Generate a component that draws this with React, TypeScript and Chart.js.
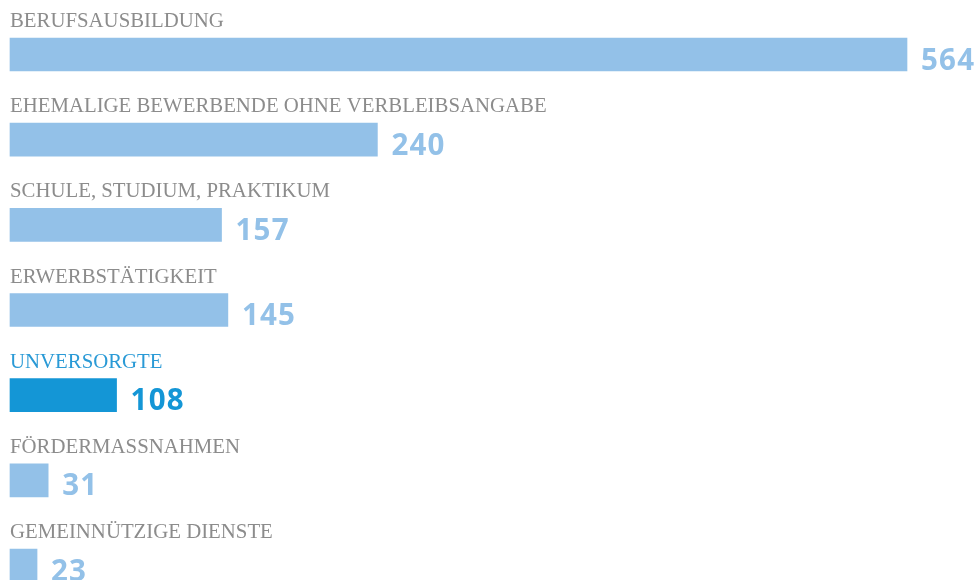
import React, { useEffect, useRef } from "react";
import { Chart, registerables } from "chart.js";

Chart.register(...registerables);

const categories = [
  "BERUFSAUSBILDUNG",
  "EHEMALIGE BEWERBENDE OHNE VERBLEIBSANGABE",
  "SCHULE, STUDIUM, PRAKTIKUM",
  "ERWERBSTÄTIGKEIT",
  "UNVERSORGTE",
  "FÖRDERMASSNAHMEN",
  "GEMEINNÜTZIGE DIENSTE",
];
// numbers printed next to the bars
const counts = [564, 240, 157, 145, 108, 31, 23];
// bar lengths as drawn in the source (not strictly to scale), in the same units
const barLengths = [564, 231, 133, 137, 67, 24, 17];
const highlightIndex = 4;

const LIGHT = "#93c1e8";
const DARK = "#1496d6";
const LABEL_GREY = "#8c8c8c";
const LABEL_HI = "#2a9ad6";

const labelPlugin = {
  id: "rowLabels",
  afterDatasetsDraw(chart: any) {
    const ctx = chart.ctx;
    const meta = chart.getDatasetMeta(0);
    ctx.save();
    meta.data.forEach((bar: any, i: number) => {
      const hi = i === highlightIndex;
      const h = bar.height;
      const top = bar.y - h / 2;
      const bottom = bar.y + h / 2;
      ctx.textAlign = "left";
      ctx.textBaseline = "alphabetic";
      ctx.font = '20.8px "Liberation Serif"';
      (ctx as any).letterSpacing = "0px";
      ctx.fillStyle = hi ? LABEL_HI : LABEL_GREY;
      ctx.fillText(categories[i], 10, top - 11);
      ctx.font = 'bold 29.5px "Open Sans"';
      (ctx as any).letterSpacing = "1.2px";
      ctx.fillStyle = hi ? DARK : LIGHT;
      ctx.fillText(String(counts[i]), bar.x + 14, bottom - 1.5);
    });
    ctx.restore();
  },
};

export default function App() {
  const ref = useRef<HTMLCanvasElement | null>(null);
  useEffect(() => {
    document.body.style.margin = "0";
    const chart = new Chart(ref.current as HTMLCanvasElement, {
      type: "bar",
      data: {
        labels: categories,
        datasets: [
          {
            data: barLengths,
            backgroundColor: categories.map((_, i) => (i === highlightIndex ? DARK : LIGHT)),
            barThickness: 33,
            borderWidth: 0,
            clip: false as any,
          },
        ],
      },
      options: {
        indexAxis: "y",
        animation: false,
        responsive: false,
        maintainAspectRatio: false,
        layout: { padding: { top: 54.5, bottom: 14.5, left: 10, right: 70 } },
        plugins: { legend: { display: false }, tooltip: { enabled: false } },
        scales: {
          x: { display: false, min: 0, max: 564 },
          y: { display: false, offset: false },
        },
      },
      plugins: [labelPlugin],
    });
    return () => chart.destroy();
  }, []);
  return (
    <div style={{ position: "relative", width: 977, height: 580, background: "#fff" }}>
      <canvas ref={ref} width={977} height={580} style={{ display: "block" }} />
    </div>
  );
}
